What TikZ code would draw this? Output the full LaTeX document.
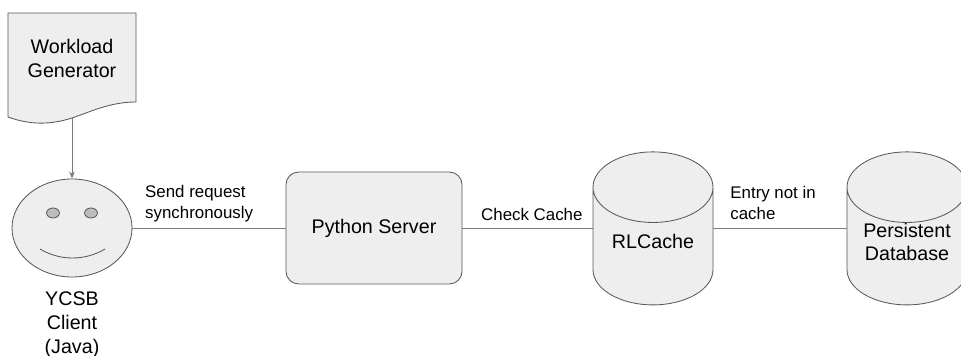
\documentclass[tikz,border=0pt]{standalone}
\usepackage{fontspec}
\setmainfont{Liberation Sans}
\usetikzlibrary{arrows.meta, positioning, shapes.geometric}
\definecolor{shapefill}{HTML}{EEEEEE}
\definecolor{shapeline}{HTML}{595959}
\definecolor{eyefill}{HTML}{BDBDBD}

\begin{document}
\begin{tikzpicture}[draw=shapeline, line width=0.6pt]
    \tikzstyle{bigtext}=[font=\fontsize{14}{17}\selectfont, align=center, inner sep=0pt]
    \tikzstyle{smalltext}=[font=\fontsize{12}{15}\selectfont, align=left, inner sep=0pt]
    \tikzstyle{server}=[bigtext, draw=shapeline, fill=shapefill, rectangle, rounded corners=9pt, minimum width=4.4cm, minimum height=2.8cm]
    \tikzstyle{store}=[bigtext, text width=2.8cm, draw=shapeline, fill=shapefill, cylinder, shape border rotate=90, aspect=0.63, minimum width=3cm, minimum height=3.825cm, outer sep=0pt, anchor=shape center]
    \tikzstyle{link}=[draw=shapeline!80!white, line width=0.7pt]

    \clip (0,0) rectangle (24.025,8.9);

    % document shape
    \draw[fill=shapefill] (0.2,8.575) -- (3.4,8.575) -- (3.4,6.35)
        .. controls (2.75,6.35) and (2.25,6.1) .. (1.8,5.95)
        .. controls (1.25,5.775) and (0.75,5.775) .. (0.2,5.975) -- cycle;
    \node[bigtext] (G) at (1.8,7.44) {Workload\\Generator};
    \coordinate (G-out) at (1.8,5.95);

    % client
    \node[draw=shapeline, fill=shapefill, ellipse, minimum width=3cm, minimum height=2.45cm, inner sep=0pt] (C) at (1.8,3.2) {};
    \foreach \x in {1.325,2.275}{
        \node[draw=shapeline, fill=eyefill, ellipse, minimum width=0.32cm, minimum height=0.25cm, inner sep=0pt] (E-\x) at (\x,3.575) {};
    }
    \draw (1,2.675) .. controls (1.5,2.375) and (2.125,2.375) .. (2.625,2.675);
    \node[bigtext, below=0.35cm of C] (CL) {YCSB\\Client\\(Java)};

    \node[server] (P) at (9.35,3.2) {Python Server};
    \node[store] (R) at (16.325,3.19) {};
    \node[store] (D) at (22.675,3.19) {};
    \node[bigtext] (R-T) at (16.325,2.87) {RLCache};
    \node[bigtext] (D-T) at (22.675,2.85) {Persistent\\Database};

    \draw[link,-{Stealth[length=5pt,width=4pt]}] (G-out) -- (C.north);
    \path[link] (C) edge (P);
    \path[link] (P) edge (P -| R.west);
    \path[link] (P -| R.east) edge (P -| D.west);

    \node[smalltext, anchor=west] (L-1) at (3.62,3.8) {Send request\\synchronously};
    \node[smalltext, anchor=west] (L-2) at (12.02,3.55) {Check Cache};
    \node[smalltext, anchor=west] (L-3) at (18.25,3.82) {Entry not in\\cache};
\end{tikzpicture}
\end{document}
